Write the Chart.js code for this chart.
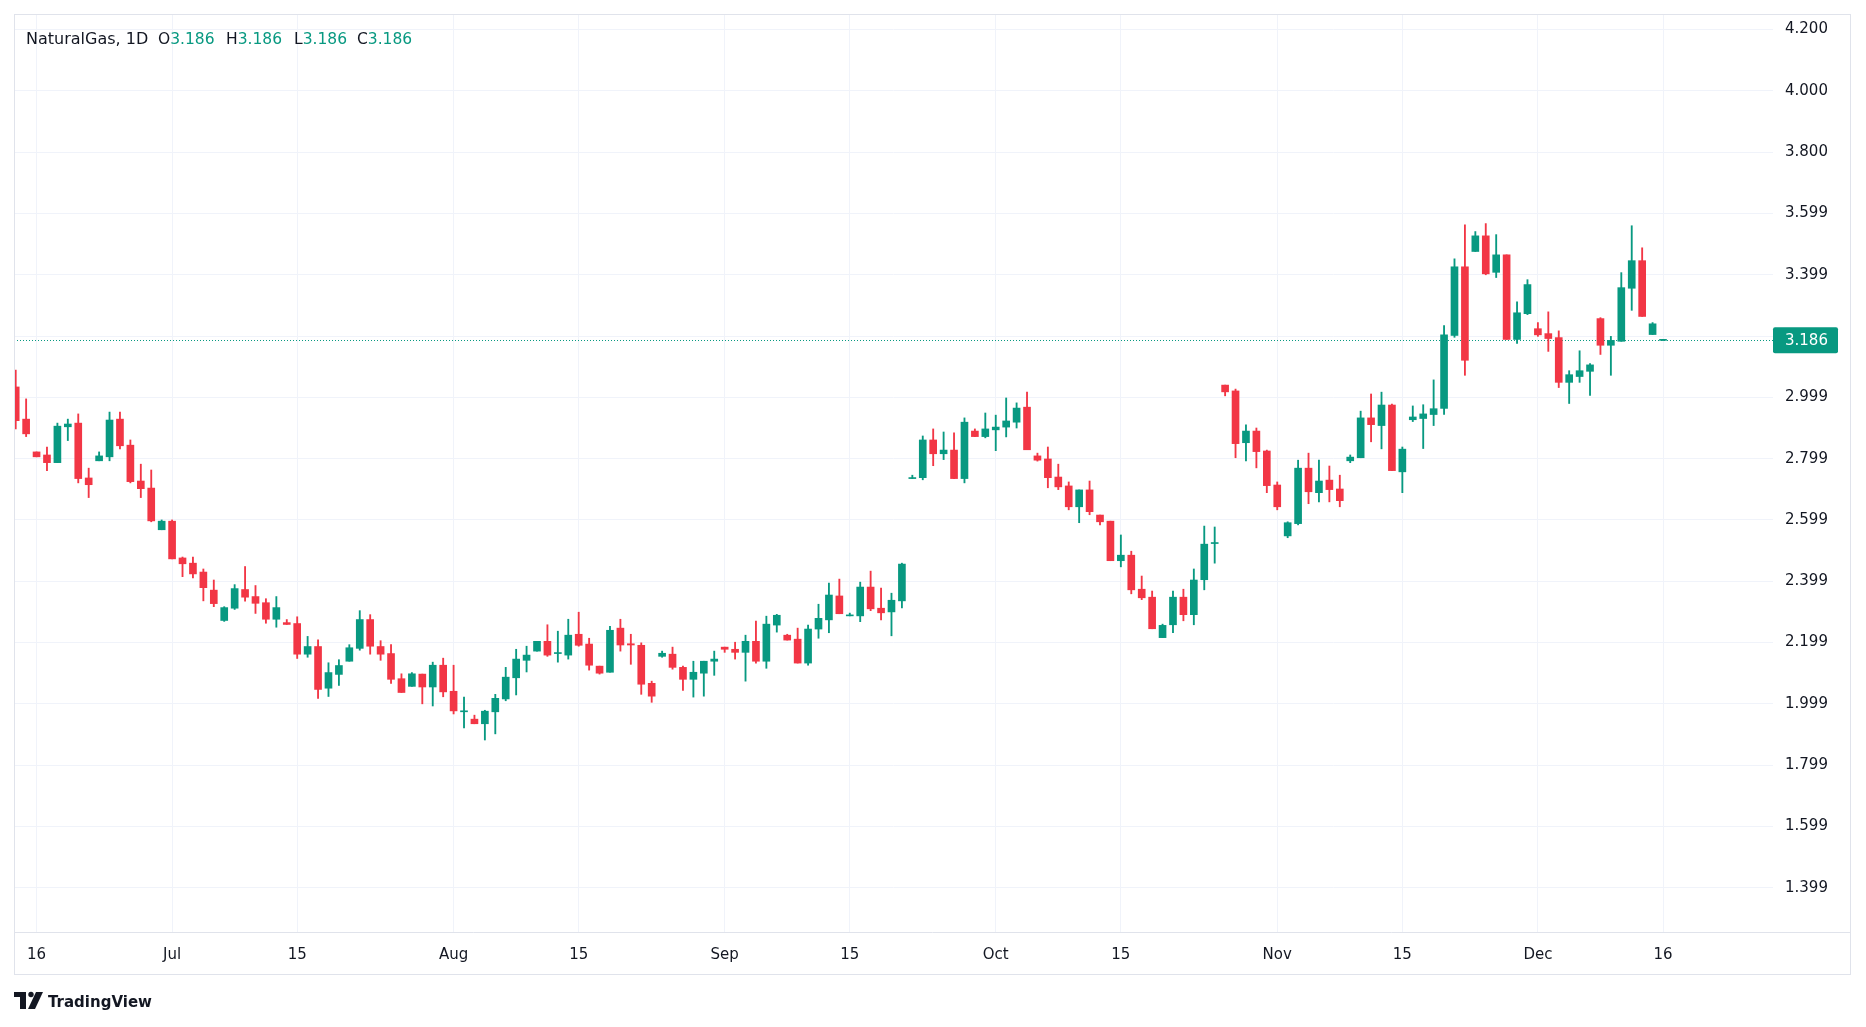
<!DOCTYPE html>
<html>
<head>
<meta charset="utf-8">
<script src="https://cdn.jsdelivr.net/npm/chart.js@4.4.1/dist/chart.umd.min.js"></script>
<style>
html,body{margin:0;padding:0;background:#ffffff;}
#wrap{width:1866px;height:1027px;position:relative;}
canvas{display:block;}
</style>
</head>
<body>
<div id="wrap"><canvas id="c" width="1866" height="1027"></canvas></div>
<script>
// ---- Data (daily bars, index 0 = first visible bar) ----
const opens  = [3.034,2.929,2.822,2.812,2.787,2.904,2.916,2.737,2.793,2.806,2.929,2.844,2.727,2.704,2.568,2.596,2.476,2.459,2.430,2.371,
2.272,2.312,2.373,2.350,2.330,2.276,2.265,2.262,2.162,2.187,2.051,2.096,2.139,2.181,2.275,2.187,2.164,2.082,2.057,2.097,
2.055,2.126,2.041,1.974,1.950,1.935,1.974,2.016,2.085,2.142,2.172,2.204,2.164,2.159,2.227,2.195,2.123,2.103,2.247,2.196,
2.191,2.067,2.155,2.162,2.119,2.080,2.100,2.139,2.185,2.178,2.168,2.204,2.139,2.257,2.224,2.211,2.133,2.244,2.274,2.352,
2.287,2.287,2.381,2.312,2.300,2.336,2.735,2.738,2.861,2.816,2.828,2.735,2.890,2.872,2.894,2.903,2.919,2.968,2.809,2.799,
2.740,2.711,2.643,2.698,2.616,2.596,2.467,2.485,2.374,2.348,2.216,2.258,2.348,2.291,2.405,2.523,3.040,3.021,2.852,2.890,
2.825,2.714,2.548,2.588,2.769,2.689,2.730,2.701,2.793,2.803,2.933,2.908,2.975,2.757,2.927,2.931,2.944,2.964,3.202,3.426,
3.476,3.527,3.408,3.465,3.189,3.273,3.224,3.208,3.195,3.049,3.068,3.085,3.257,3.170,3.183,3.356,3.446,3.205,3.186];
const highs  = [3.089,2.995,2.822,2.838,2.916,2.929,2.946,2.769,2.822,2.952,2.952,2.861,2.782,2.763,2.600,2.600,2.479,2.479,2.440,2.404,
2.317,2.389,2.448,2.386,2.343,2.350,2.275,2.284,2.220,2.209,2.134,2.144,2.193,2.304,2.291,2.206,2.193,2.098,2.102,2.097,
2.136,2.149,2.126,2.022,1.963,1.979,2.031,2.119,2.178,2.188,2.204,2.258,2.237,2.276,2.299,2.214,2.123,2.253,2.276,2.227,
2.199,2.074,2.172,2.185,2.123,2.139,2.139,2.172,2.185,2.201,2.224,2.270,2.286,2.292,2.227,2.247,2.257,2.325,2.394,2.407,
2.296,2.397,2.433,2.378,2.361,2.459,2.746,2.874,2.897,2.887,2.884,2.933,2.897,2.949,2.942,2.998,2.982,3.017,2.818,2.838,
2.782,2.724,2.698,2.727,2.616,2.596,2.551,2.498,2.417,2.368,2.260,2.368,2.374,2.440,2.580,2.577,3.040,3.027,2.910,2.900,
2.828,2.724,2.594,2.795,2.818,2.795,2.776,2.746,2.812,2.955,3.011,3.017,2.978,2.838,2.972,2.976,3.057,3.234,3.452,3.563,
3.541,3.567,3.531,3.465,3.312,3.384,3.244,3.279,3.217,3.087,3.152,3.110,3.260,3.199,3.407,3.560,3.488,3.244,3.186];
const lows   = [2.897,2.872,2.806,2.761,2.787,2.859,2.721,2.673,2.793,2.793,2.832,2.721,2.673,2.594,2.568,2.473,2.415,2.411,2.336,2.317,
2.269,2.308,2.335,2.295,2.263,2.250,2.259,2.148,2.152,2.018,2.024,2.060,2.139,2.175,2.162,2.142,2.067,2.037,2.057,2.000,
1.993,2.023,1.967,1.921,1.935,1.882,1.902,2.010,2.029,2.104,2.172,2.155,2.136,2.146,2.188,2.110,2.097,2.103,2.172,2.129,
2.031,2.005,2.152,2.113,2.044,2.022,2.025,2.093,2.168,2.146,2.074,2.133,2.116,2.234,2.208,2.133,2.126,2.214,2.232,2.294,
2.287,2.268,2.304,2.274,2.222,2.313,2.735,2.731,2.777,2.797,2.735,2.721,2.872,2.868,2.826,2.871,2.900,2.829,2.792,2.705,
2.699,2.633,2.591,2.617,2.584,2.467,2.447,2.359,2.340,2.245,2.216,2.232,2.271,2.258,2.372,2.459,3.005,2.803,2.793,2.770,
2.689,2.633,2.542,2.584,2.653,2.659,2.659,2.643,2.787,2.803,2.855,2.832,2.761,2.689,2.921,2.833,2.908,2.944,3.196,3.072,
3.476,3.400,3.391,3.189,3.176,3.270,3.199,3.150,3.032,2.980,3.049,3.006,3.140,3.072,3.183,3.284,3.264,3.205,3.186];
const closes = [2.924,2.881,2.806,2.787,2.906,2.913,2.735,2.715,2.809,2.926,2.842,2.725,2.702,2.597,2.596,2.473,2.457,2.424,2.379,2.327,
2.314,2.376,2.348,2.328,2.276,2.314,2.259,2.162,2.187,2.047,2.102,2.125,2.183,2.275,2.188,2.162,2.080,2.037,2.098,2.055,
2.126,2.039,1.977,1.977,1.935,1.976,2.018,2.087,2.146,2.159,2.204,2.159,2.165,2.224,2.191,2.126,2.100,2.240,2.192,2.192,
2.064,2.025,2.165,2.119,2.080,2.103,2.139,2.146,2.178,2.168,2.204,2.139,2.260,2.289,2.208,2.133,2.244,2.279,2.355,2.294,
2.290,2.381,2.310,2.297,2.338,2.456,2.737,2.861,2.816,2.828,2.735,2.919,2.872,2.897,2.903,2.923,2.965,2.829,2.795,2.738,
2.708,2.643,2.698,2.627,2.594,2.467,2.485,2.372,2.346,2.245,2.256,2.348,2.291,2.404,2.521,2.526,3.018,2.849,2.890,2.823,
2.712,2.643,2.591,2.769,2.692,2.727,2.699,2.663,2.805,2.933,2.911,2.975,2.761,2.831,2.936,2.946,2.963,3.204,3.426,3.121,
3.527,3.403,3.465,3.189,3.276,3.368,3.204,3.192,3.049,3.074,3.087,3.106,3.170,3.186,3.358,3.446,3.264,3.240,3.186];

const timeTickIndex  = [2, 15, 27, 42, 54, 68, 80, 94, 106, 121, 133, 146, 158];
const timeTickLabels = ['16','Jul','15','Aug','15','Sep','15','Oct','15','Nov','15','Dec','16'];
const priceTickValues = [1.4,1.6,1.8,2.0,2.2,2.4,2.6,2.8,3.0,3.2,3.4,3.6,3.8,4.0,4.2];
const priceTickLabels = ['1.399','1.599','1.799','1.999','2.199','2.399','2.599','2.799','2.999','','3.399','3.599','3.800','4.000','4.200'];
const symbolName = 'NaturalGas';
const intervalName = '1D';

// ---- Styling ----
const UP = '#089981', DOWN = '#F23645', TEXT = '#131722', GRID = '#f0f3fa', FRAME = '#e0e3eb';
const FONT = '"DejaVu Sans", sans-serif';

const n = closes.length;
const lastClose = closes[n - 1];
const colors = closes.map((c, i) => c >= opens[i] ? UP : DOWN);
const fmt = v => v.toFixed(3);

const overlay = {
  id: 'tvOverlay',
  beforeDatasetsDraw(chart) {
    const {ctx, chartArea: a, scales: {y}} = chart;
    const py = Math.round(y.getPixelForValue(lastClose)) + 0.5;
    ctx.save();
    ctx.strokeStyle = UP;
    ctx.lineWidth = 1;
    ctx.setLineDash([1, 2]);
    ctx.beginPath();
    ctx.moveTo(a.left, py);
    ctx.lineTo(a.right, py);
    ctx.stroke();
    ctx.restore();
  },
  afterDraw(chart) {
    const {ctx, chartArea: a, scales: {y}} = chart;
    ctx.save();
    // frame
    ctx.strokeStyle = FRAME;
    ctx.lineWidth = 1;
    ctx.strokeRect(14.5, 14.5, 1836, 960);
    ctx.beginPath();
    ctx.moveTo(14, Math.round(a.bottom) + 0.5);
    ctx.lineTo(1851, Math.round(a.bottom) + 0.5);
    ctx.stroke();

    // last price badge
    const py = y.getPixelForValue(lastClose);
    ctx.fillStyle = UP;
    ctx.beginPath();
    if (ctx.roundRect) ctx.roundRect(a.right, py - 13, 65, 26, 2); else ctx.rect(a.right, py - 13, 65, 26);
    ctx.fill();
    ctx.fillStyle = '#ffffff';
    ctx.font = '15px ' + FONT;
    ctx.textBaseline = 'middle';
    ctx.textAlign = 'left';
    ctx.fillText(fmt(lastClose), a.right + 12, py + 1);

    // legend
    ctx.font = '16px ' + FONT;
    ctx.textBaseline = 'alphabetic';
    const by = 44;
    ctx.fillStyle = TEXT;
    ctx.fillText(symbolName + ', ' + intervalName, 26, by);
    ctx.font = '15.5px ' + FONT;
    const parts = [['O', opens[n-1], 158], ['H', highs[n-1], 226], ['L', lows[n-1], 294], ['C', closes[n-1], 357]];
    parts.forEach(([k, v, x]) => {
      ctx.fillStyle = TEXT;
      ctx.fillText(k, x, by);
      const w = ctx.measureText(k).width;
      ctx.fillStyle = UP;
      ctx.fillText(fmt(v), x + w, by);
    });

    // TradingView logo + text
    ctx.fillStyle = TEXT;
    ctx.fillRect(14, 992, 12, 5);
    ctx.fillRect(20, 992, 6, 17);
    ctx.beginPath();
    ctx.arc(31, 994.5, 2.7, 0, Math.PI * 2);
    ctx.fill();
    ctx.beginPath();
    ctx.moveTo(36, 992); ctx.lineTo(43, 992); ctx.lineTo(35, 1009); ctx.lineTo(28, 1009);
    ctx.closePath();
    ctx.fill();
    ctx.font = 'bold 15px ' + FONT;
    ctx.textBaseline = 'alphabetic';
    ctx.fillText('TradingView', 48, 1007);
    ctx.restore();
  }
};

new Chart(document.getElementById('c'), {
  type: 'bar',
  data: {
    datasets: [
      {
        label: 'body',
        data: opens.map((o, i) => ({x: i, y: [o, closes[i]]})),
        backgroundColor: colors,
        barThickness: 7,
        minBarLength: 1,
        grouped: false,
        borderWidth: 0,
        borderSkipped: false,
        order: 0
      },
      {
        label: 'wick',
        data: lows.map((l, i) => ({x: i, y: [l, highs[i]]})),
        backgroundColor: colors,
        barThickness: 1.2,
        minBarLength: 1,
        grouped: false,
        borderWidth: 0,
        borderSkipped: false,
        order: 1
      }
    ]
  },
  options: {
    responsive: false,
    animation: false,
    devicePixelRatio: 1,
    layout: {padding: {left: 14, top: 14, right: 16, bottom: 53}},
    plugins: {legend: {display: false}, tooltip: {enabled: false}},
    scales: {
      x: {
        type: 'linear',
        offset: false,
        min: -0.163,
        max: 168.55,
        afterBuildTicks: s => { s.ticks = timeTickIndex.map(v => ({value: v})); },
        afterFit: s => { s.height = 42; s.paddingLeft = 0; s.paddingRight = 0; },
        grid: {color: GRID, drawTicks: false, lineWidth: 1, offset: false},
        border: {display: false},
        ticks: {
          autoSkip: false, maxRotation: 0, padding: 14, color: TEXT,
          font: {family: FONT, size: 15},
          callback: (v) => { const k = timeTickIndex.indexOf(v); return k >= 0 ? timeTickLabels[k] : ''; }
        }
      },
      y: {
        type: 'linear',
        position: 'right',
        min: 1.2555,
        max: 4.2509,
        afterBuildTicks: s => { s.ticks = priceTickValues.map(v => ({value: v})); },
        afterFit: s => { s.width = 77; s.paddingTop = 0; s.paddingBottom = 0; },
        grid: {color: GRID, drawTicks: false, lineWidth: 1},
        border: {display: false},
        ticks: {
          autoSkip: false, padding: 12, color: TEXT,
          font: {family: FONT, size: 15},
          callback: (v, i) => priceTickLabels[i]
        }
      }
    }
  },
  plugins: [overlay]
});
</script>
</body>
</html>
